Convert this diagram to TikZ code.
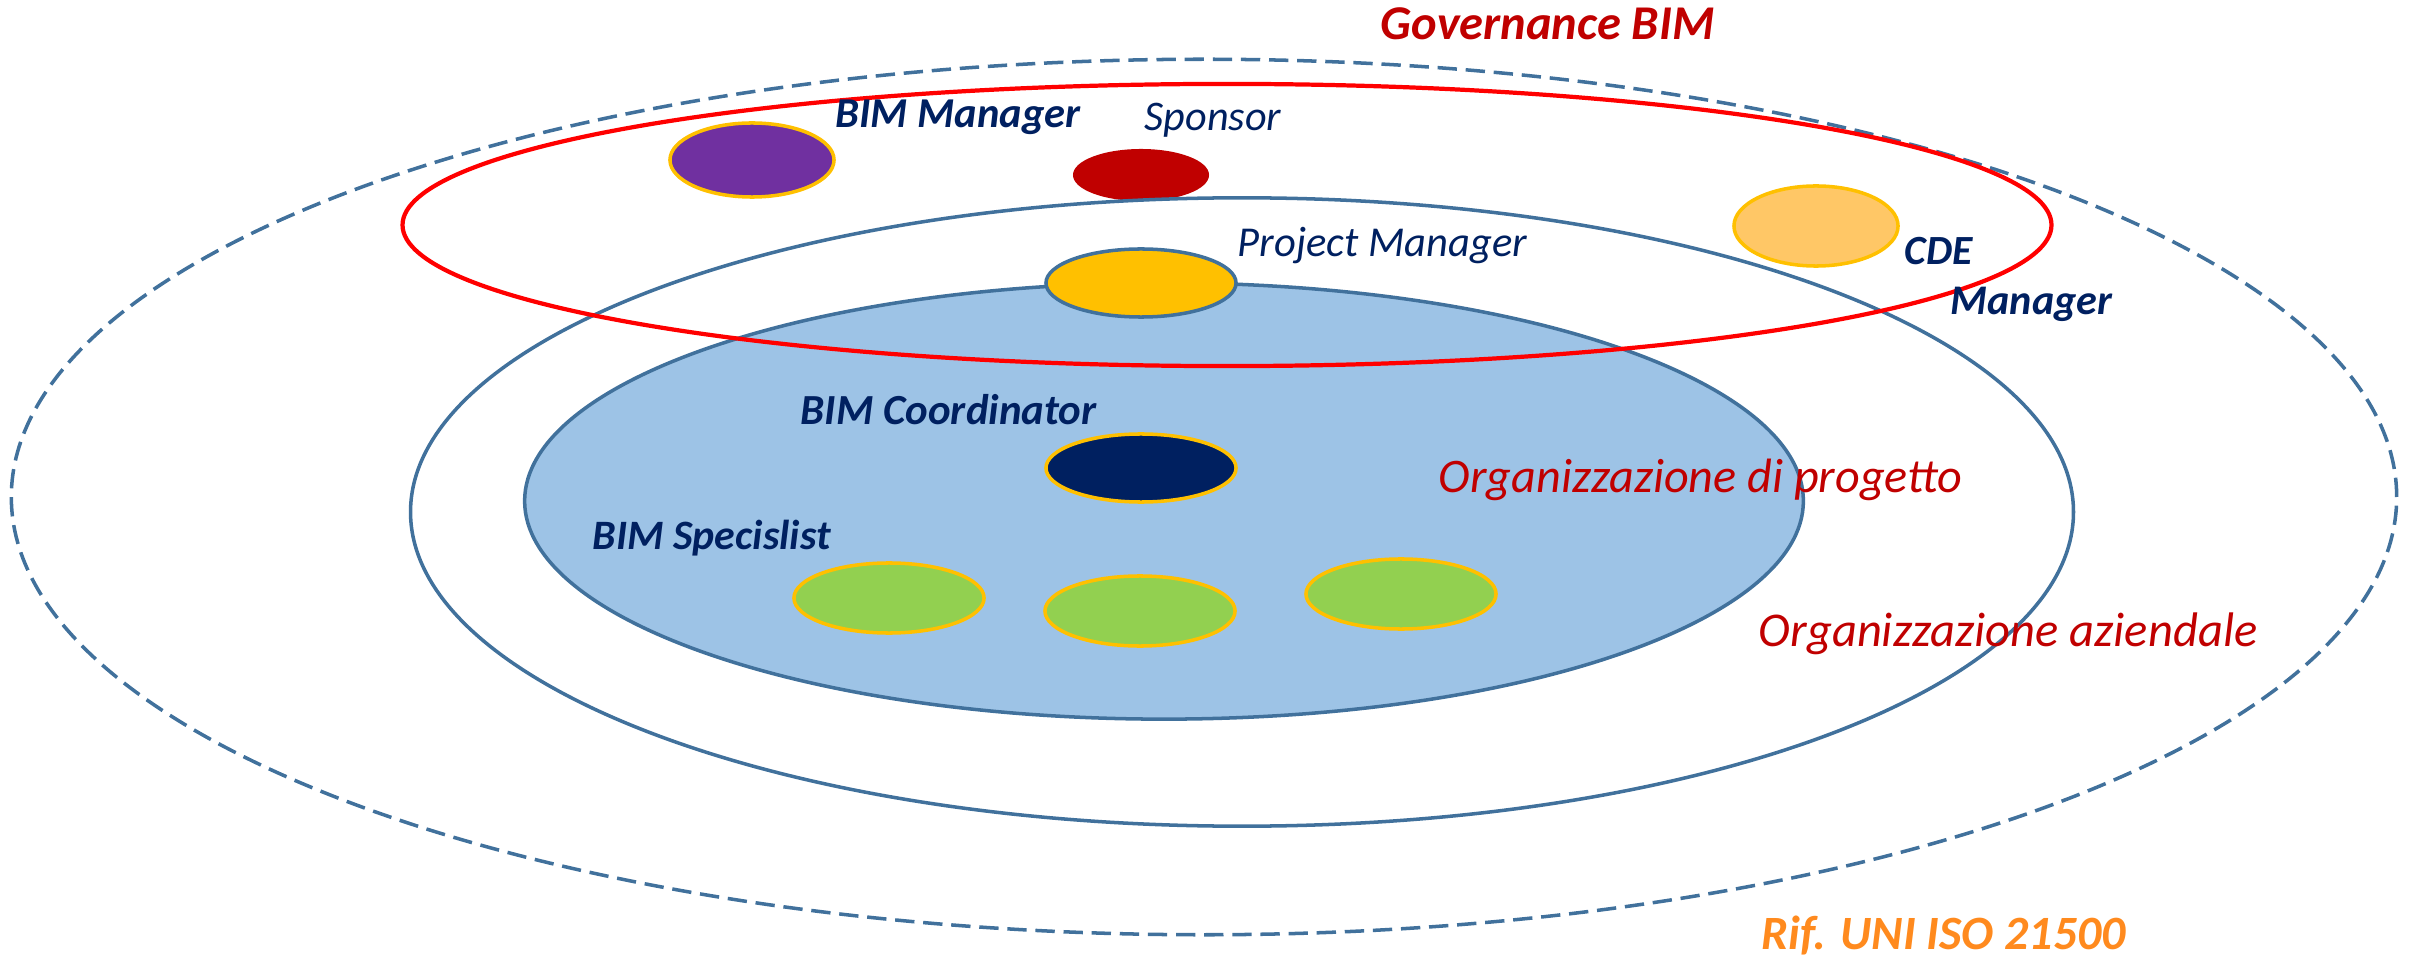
\documentclass[tikz,border=0pt]{standalone}
\usepackage{fontspec}
\setmainfont{Carlito}
\usetikzlibrary{shapes.geometric}
\definecolor{bordo}{HTML}{41719C}
\definecolor{navy}{HTML}{002060}
\definecolor{scuro}{HTML}{C00000}
\definecolor{oro}{HTML}{FFC000}
\definecolor{viola}{HTML}{7030A0}
\definecolor{cde}{HTML}{FFC766}
\definecolor{verde}{HTML}{92D050}
\definecolor{azzurro}{HTML}{9DC3E6}
\definecolor{arancio}{HTML}{FF8A1E}
\newcommand{\fsz}[1]{\fontsize{#1}{1.2\dimexpr#1\relax}\selectfont}
\tikzset{
  px/.style={x=0.01cm,y=-0.01cm},
  ell/.style={ellipse,inner sep=0pt,outer sep=0pt},
  role/.style={ell,line width=1pt,draw=oro},
  lbl/.style={anchor=base west,inner sep=0pt,font=\fsz{#1}\itshape},
  lblb/.style={anchor=base west,inner sep=0pt,font=\fsz{#1}\bfseries\itshape},
}
\begin{document}
\begin{tikzpicture}[px]
\useasboundingbox (0,0) rectangle (2412,961);
% outer dashed ellipse
\node[ell,draw=bordo,line width=1pt,dash pattern=on 5.5pt off 2.5pt,minimum width=23.84cm,minimum height=8.75cm] (iso) at (1204,497) {};
% top-level roles
\node[role,fill=viola,minimum width=1.64cm,minimum height=0.74cm] (bimman) at (752,160) {};
\node[ell,fill=scuro,minimum width=1.36cm,minimum height=0.52cm] (sponsor) at (1141,175) {};
\node[role,fill=cde,minimum width=1.64cm,minimum height=0.80cm] (cdeman) at (1816,226) {};
% organizzazione aziendale
\node[ell,draw=bordo,line width=1pt,minimum width=16.62cm,minimum height=6.28cm] (azienda) at (1242,512) {};
% organizzazione di progetto
\node[ell,draw=bordo,line width=1pt,fill=azzurro,minimum width=12.78cm,minimum height=4.36cm] (progetto) at (1164,501) {};
% governance
\node[ell,draw=red,line width=1.2pt,minimum width=16.48cm,minimum height=2.82cm] (gov) at (1227,225) {};
% inner roles
\node[ell,draw=bordo,line width=1pt,fill=oro,minimum width=1.90cm,minimum height=0.68cm] (pm) at (1141,283) {};
\node[role,fill=navy,minimum width=1.90cm,minimum height=0.68cm] (coord) at (1141,468) {};
\node[role,fill=verde,minimum width=1.90cm,minimum height=0.70cm] (spec1) at (889,598) {};
\node[role,fill=verde,minimum width=1.90cm,minimum height=0.70cm] (spec2) at (1140,611) {};
\node[role,fill=verde,minimum width=1.90cm,minimum height=0.70cm] (spec3) at (1401,594) {};
% labels
\node[lblb=13.8pt,text=scuro] (tgov) at (1380,40) {Governance BIM};
\node[lblb=12.1pt,text=navy] (tbimman) at (835,128) {BIM Manager};
\node[lbl=12pt,text=navy] (tsponsor) at (1144,131) {Sponsor};
\node[lbl=12.1pt,text=navy] (tpm) at (1237,257) {Project Manager};
\node[lblb=11.8pt,text=navy] (tcde) at (1904,265) {CDE};
\node[lblb=12pt,text=navy] (tcde2) at (1950,315) {Manager};
\node[lblb=12.2pt,text=navy] (tcoord) at (800,425) {BIM Coordinator};
\node[lbl=13.7pt,text=scuro] (tprog) at (1438,492) {Organizzazione di progetto};
\node[lblb=11.9pt,text=navy] (tspec) at (592,549) {BIM Specislist};
\node[lbl=13.8pt,text=scuro] (taz) at (1758,646) {Organizzazione aziendale};
\node[lblb=13.6pt,text=arancio] (tiso) at (1761,949) {Rif. UNI ISO 21500};
\end{tikzpicture}
\end{document}
